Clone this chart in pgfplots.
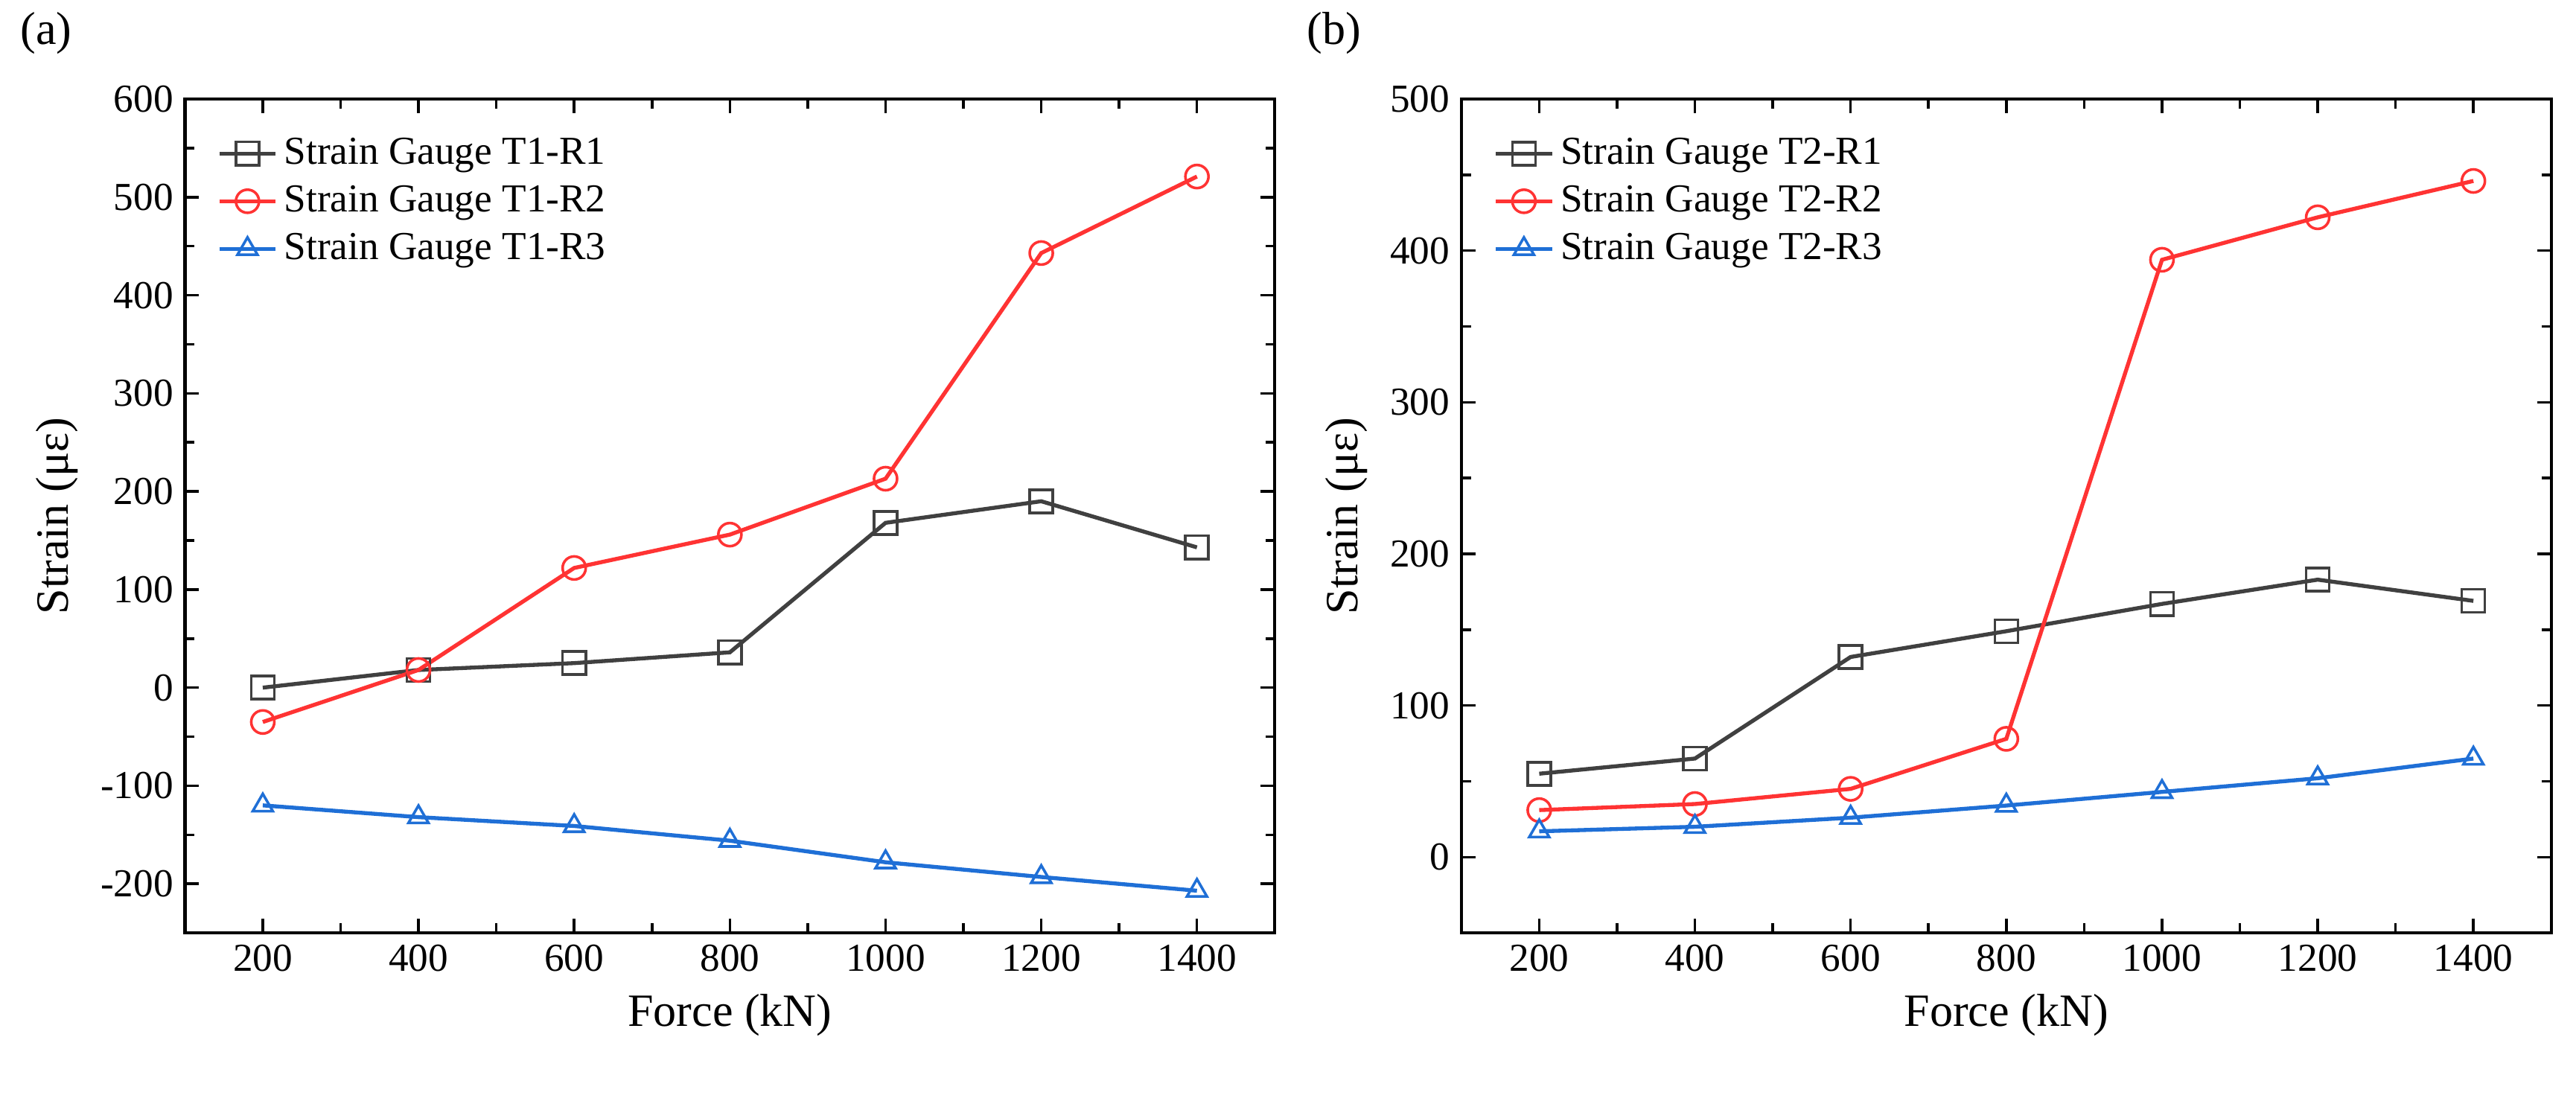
\documentclass[border=0pt]{standalone}
\usepackage{pgfplots}
\pgfplotsset{compat=1.18}
\usepackage{fontspec}
\setmainfont{Liberation Serif}
\definecolor{cg}{HTML}{404040}
\definecolor{cr}{HTML}{FF3333}
\definecolor{cb}{HTML}{1F6FD6}
\pgfplotsset{
  myax/.style={scale only axis, width=330pt, height=252.5pt,
    xmin=100, xmax=1500, xtick={200,400,...,1400},
    tick align=inside, minor y tick num=1, minor x tick num=1,
    axis line style={line width=1pt}, tick style={line width=0.8pt, black},
    ticklabel style={font=\fontsize{12}{14}\selectfont},
    /pgf/number format/assume math mode=true,
    /pgf/number format/1000 sep={},
    xlabel={Force (kN)}, ylabel={Strain (με)},
    label style={font=\fontsize{14}{16}\selectfont},
    legend style={draw=none, fill=none, at={(0.02,0.97)}, anchor=north west, font=\fontsize{12}{14}\selectfont, row sep=1pt},
    legend cell align=left,
    every axis plot/.append style={line width=1.2pt, mark size=3.5pt, mark options={solid, fill=white, line width=0.8pt}},
  }
}
\begin{document}
\begin{tikzpicture}
\path[use as bounding box] (0,0) rectangle (780pt,336pt);
\begin{axis}[myax, at={(56pt,53.5pt)}, anchor=south west, ymin=-250, ymax=600, ytick={-200,-100,...,600}]
\addplot[color=cg, mark=square] coordinates {(200,0)(400,18)(600,25)(800,36)(1000,168)(1200,190)(1400,143)};
\addplot[color=cr, mark=o] coordinates {(200,-35)(400,18)(600,122)(800,156)(1000,213)(1200,443)(1400,521)};
\addplot[color=cb, mark=triangle] coordinates {(200,-120)(400,-132)(600,-141)(800,-156)(1000,-178)(1200,-193)(1400,-207)};
\legend{Strain Gauge T1-R1, Strain Gauge T1-R2, Strain Gauge T1-R3}
\end{axis}
\begin{axis}[myax, at={(442.5pt,53.5pt)}, anchor=south west, ymin=-50, ymax=500, ytick={0,100,...,500}]
\addplot[color=cg, mark=square] coordinates {(200,55)(400,65)(600,132)(800,149)(1000,167)(1200,183)(1400,169)};
\addplot[color=cr, mark=o] coordinates {(200,31)(400,35)(600,45)(800,78)(1000,394)(1200,422)(1400,446)};
\addplot[color=cb, mark=triangle] coordinates {(200,17)(400,20)(600,26)(800,34)(1000,43)(1200,52)(1400,65)};
\legend{Strain Gauge T2-R1, Strain Gauge T2-R2, Strain Gauge T2-R3}
\end{axis}
\node[font=\fontsize{14}{16}\selectfont] at (14pt,326pt) {(a)};
\node[font=\fontsize{14}{16}\selectfont] at (404pt,326pt) {(b)};
\end{tikzpicture}
\end{document}
